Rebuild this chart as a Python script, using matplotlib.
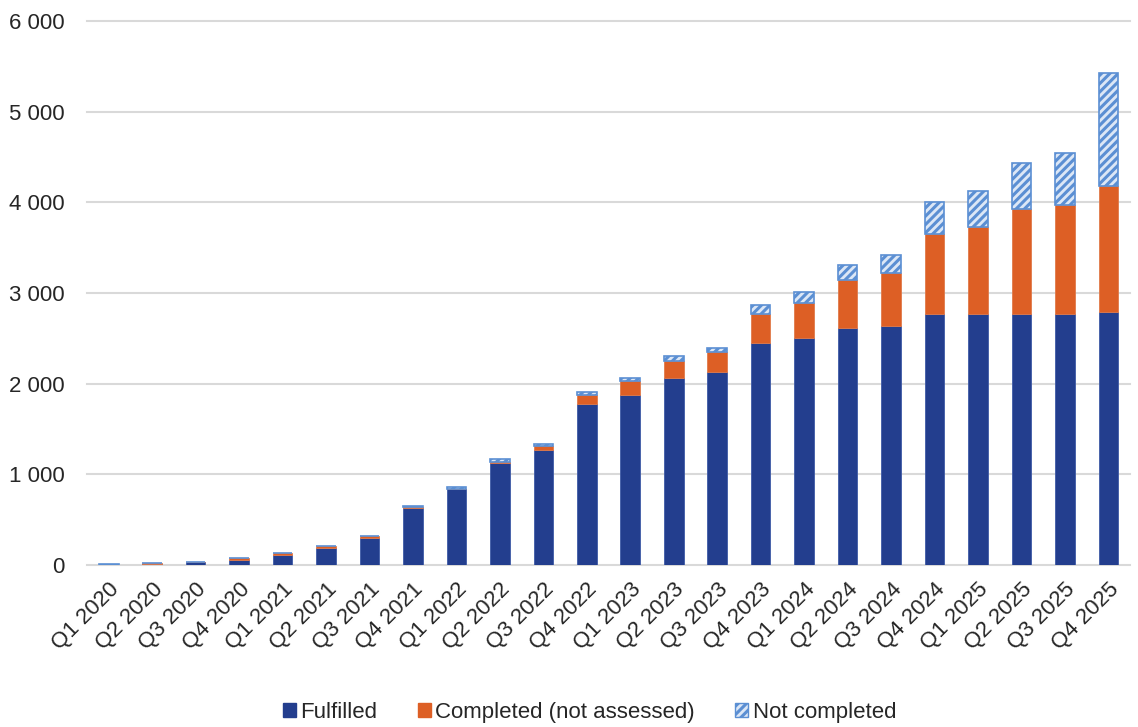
import matplotlib.pyplot as plt
import numpy as np
from matplotlib.patches import Patch

# quarters and stacked values
quarters = [f"Q{q} {y}" for y in range(2020, 2026) for q in range(1, 5)]

fulfilled = [5, 15, 30, 50, 110, 185, 295, 630, 835, 1130, 1265, 1775,
             1875, 2060, 2130, 2445, 2505, 2610, 2635, 2775, 2775, 2775, 2775, 2795]
completed = [0, 2, 2, 25, 20, 24, 25, 8, 8, 8, 45, 103,
             155, 195, 220, 330, 385, 535, 585, 875, 960, 1150, 1195, 1390]
not_completed = [8, 5, 3, 3, 3, 3, 3, 18, 22, 28, 22, 26,
                 30, 50, 50, 95, 120, 170, 205, 355, 395, 510, 575, 1240]

c_ful = "#233E8E"
c_comp = "#DD5F25"
c_nc = "#5B8FD3"

plt.rcParams["font.family"] = ["Liberation Sans", "DejaVu Sans"]
plt.rcParams["hatch.linewidth"] = 2.2

fig = plt.figure(figsize=(11.38, 7.27), dpi=100)
ax = fig.add_axes([0.0765, 0.2228, 0.9165, 0.748])

x = np.arange(len(quarters))
w = 0.45
ful = np.array(fulfilled)
comp = np.array(completed)
nc = np.array(not_completed)

ax.bar(x, ful, w, color=c_ful, edgecolor="#3E5AA6", linewidth=0.6, zorder=3)
ax.bar(x, comp, w, bottom=ful, color=c_comp, edgecolor="#E07A4A", linewidth=0.6, zorder=3)
ax.bar(x, nc, w, bottom=ful + comp, facecolor="#DCE7F6", edgecolor=c_nc,
       hatch="////", linewidth=1.2, zorder=3)

ax.set_xlim(-0.5, len(quarters) - 0.5)
ax.set_ylim(0, 6000)
ax.set_yticks(range(0, 6001, 1000))
ax.set_yticklabels([f"{v:,}".replace(",", " ") for v in range(0, 6001, 1000)])
ax.yaxis.grid(True, color="#D9D9D9", linewidth=1.5, zorder=0)
for gl in ax.get_ygridlines():
    gl.set_clip_on(False)
ax.set_axisbelow(True)

ax.set_xticks(x)
ax.set_xticklabels(quarters, rotation=45, ha="right", va="top", rotation_mode="anchor")
ax.tick_params(axis="both", length=0, labelsize=16, colors="#262626")
ax.tick_params(axis="y", pad=16)
ax.tick_params(axis="x", pad=10)
for s in ax.spines.values():
    s.set_visible(False)

handles = [
    Patch(facecolor=c_ful, edgecolor=c_ful, label="Fulfilled"),
    Patch(facecolor=c_comp, edgecolor=c_comp, label="Completed (not assessed)"),
    Patch(facecolor="#DCE7F6", edgecolor=c_nc, hatch="////", label="Not completed"),
]
fig.legend(handles=handles, loc="center", bbox_to_anchor=(0.518, 0.02), ncol=3,
           frameon=False, fontsize=16, handlelength=0.6, handleheight=0.6,
           handletextpad=0.2, columnspacing=1.8, labelcolor="#262626")

fig.savefig("out.png", dpi=100)
